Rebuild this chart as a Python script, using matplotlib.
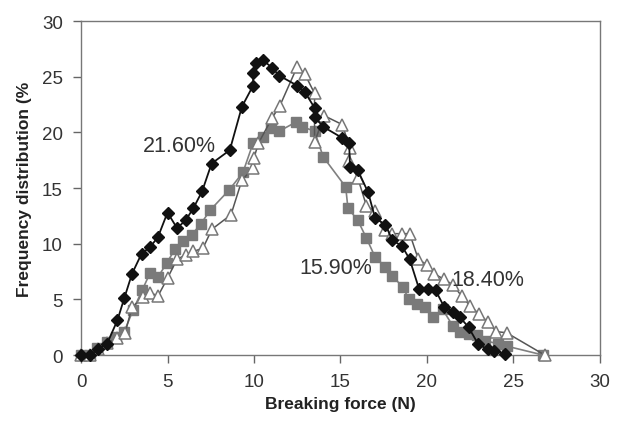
import matplotlib
matplotlib.use("Agg")
import matplotlib.pyplot as plt

plt.rcParams['font.family'] = ['Liberation Sans', 'DejaVu Sans']

# Breaking force (N) vs frequency distribution (%) for three samples
diamond_x = [0, 0.5, 1.0, 1.5, 2.1, 2.5, 2.95, 3.5, 4.0, 4.45, 5.0, 5.55, 6.05, 6.5, 7.0,
             7.55, 8.6, 9.3, 9.95, 9.95, 10.1, 10.5, 11.05, 11.45, 12.5, 12.95, 13.5, 13.5,
             14.0, 15.1, 15.5, 15.55, 16.0, 16.6, 17.0, 17.6, 18.0, 18.55, 19.0, 19.55,
             20.05, 20.5, 21.0, 21.5, 21.9, 22.4, 22.95, 23.5, 23.9, 24.5]
diamond_y = [0, 0, 0.5, 1.0, 3.1, 5.1, 7.3, 9.1, 9.7, 10.6, 12.8, 11.4, 12.1, 13.2, 14.7,
             17.2, 18.4, 22.3, 24.2, 25.3, 26.2, 26.5, 25.8, 25.1, 24.2, 23.6, 22.2, 21.4,
             20.5, 19.5, 19.0, 16.9, 16.6, 14.6, 12.3, 11.7, 10.3, 9.8, 8.6, 5.9,
             5.9, 5.8, 4.3, 3.9, 3.4, 2.5, 1.0, 0.5, 0.4, 0.1]

square_x = [0, 0.5, 0.9, 1.5, 2.0, 2.5, 3.0, 3.53, 4.0, 4.45, 4.97, 5.43, 5.9, 6.4, 6.94,
            7.46, 8.55, 9.36, 9.94, 10.5, 11.0, 11.45, 12.4, 12.8, 13.5, 14.0, 15.3, 15.43,
            16.0, 16.5, 17.0, 17.6, 18.0, 18.6, 18.96, 19.4, 19.9, 20.35, 20.9, 21.5,
            21.9, 22.4, 22.9, 23.35, 24.1, 24.6, 26.7]
square_y = [0, 0, 0.6, 1.2, 1.6, 2.1, 4.0, 5.8, 7.4, 7.0, 8.3, 9.5, 10.2, 10.8, 11.8,
            13.0, 14.8, 16.4, 19.0, 19.6, 20.4, 20.1, 20.9, 20.5, 20.1, 17.8, 15.1, 13.2,
            12.1, 10.5, 8.8, 7.9, 7.1, 6.1, 5.0, 4.6, 4.3, 3.4, 4.1, 2.6,
            2.1, 1.9, 1.8, 1.3, 1.0, 0.8, 0]

triangle_x = [0, 0.5, 1.0, 1.5, 2.1, 2.55, 2.95, 3.6, 4.0, 4.45, 5.0, 5.55, 6.07, 6.5, 7.05,
              7.57, 8.67, 9.3, 9.95, 10.0, 10.25, 11.05, 11.5, 12.5, 12.95, 13.5, 13.5,
              14.05, 15.1, 15.55, 15.5, 16.0, 16.5, 17.0, 17.6, 18.0, 18.55, 19.0, 19.5,
              20.0, 20.4, 21.0, 21.5, 22.0, 22.5, 23.0, 23.5, 24.0, 24.6, 26.8]
triangle_y = [0, 0, 0.5, 1.1, 1.5, 2.0, 4.3, 5.2, 5.6, 5.3, 6.9, 8.6, 9.0, 9.3, 9.6,
              11.3, 12.6, 15.7, 16.8, 17.7, 19.0, 21.3, 22.4, 25.9, 25.2, 23.5, 19.1,
              21.5, 20.7, 18.6, 17.4, 15.9, 13.4, 12.9, 11.2, 10.9, 10.9, 10.9, 8.6,
              8.1, 7.3, 6.8, 6.3, 5.3, 4.4, 3.7, 3.0, 2.1, 2.0, 0]

series_labels = ['21.60%', '15.90%', '18.40%']
label_x = [5.7, 14.7, 23.5]
label_y = [18.8, 7.9, 6.8]

x_ticks = [0, 5, 10, 15, 20, 25, 30]
y_ticks = [0, 5, 10, 15, 20, 25, 30]

fig = plt.figure(figsize=(6.17, 4.35), dpi=100)
ax = fig.add_axes([0.1313, 0.1816, 0.8411, 0.7678])

ax.plot(square_x, square_y, color='#808080', lw=1.2, marker='s', ms=6.5,
        mfc='#7a7a7a', mec='#7a7a7a', clip_on=False, zorder=3)
ax.plot(triangle_x, triangle_y, color='#555555', lw=1.1, marker='^', ms=8,
        mfc='white', mec='#777777', mew=1.1, clip_on=False, zorder=4)
ax.plot(diamond_x, diamond_y, color='#111111', lw=1.3, marker='D', ms=6,
        mfc='#111111', mec='#111111', clip_on=False, zorder=5)

for text, tx, ty in zip(series_labels, label_x, label_y):
    ax.text(tx, ty, text, fontsize=15.5, color='#333333', ha='center', va='center',
            zorder=6)

ax.set_xlim(0, 30)
ax.set_ylim(0, 30)
ax.set_xticks(x_ticks)
ax.set_yticks(y_ticks)
ax.tick_params(direction='out', length=6, width=1, color='#666666',
               labelsize=13.5, labelcolor='#333333', pad=7)

for s in ax.spines.values():
    s.set_color('#777777')
    s.set_linewidth(1.0)

ax.set_xlabel('Breaking force (N)', fontsize=12.5, fontweight='bold', color='#222222',
              labelpad=4)
ax.set_ylabel('Frequency distribution (%', fontsize=12.5, fontweight='bold',
              color='#222222', labelpad=7)

fig.savefig('out.png', dpi=100)
